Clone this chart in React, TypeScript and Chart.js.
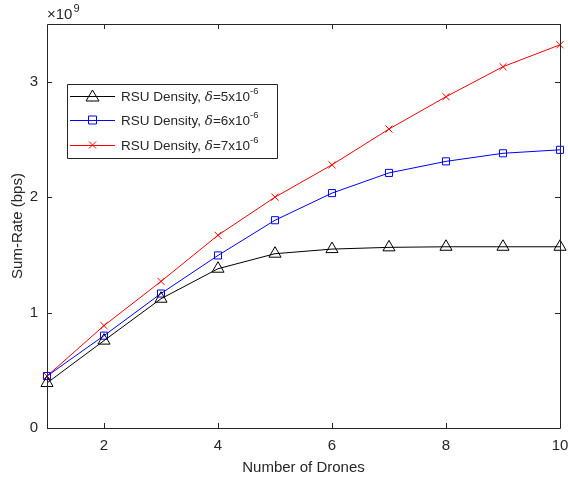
import React, { useEffect, useRef } from "react";
import { Chart, registerables } from "chart.js";

Chart.register(...registerables);

const drones = [1, 2, 3, 4, 5, 6, 7, 8, 9, 10];
const rate5 = [0.39, 0.757, 1.12, 1.38, 1.51, 1.55, 1.565, 1.57, 1.57, 1.57];
const rate6 = [0.45, 0.8, 1.165, 1.495, 1.8, 2.035, 2.21, 2.31, 2.38, 2.41];
const rate7 = [0.45, 0.887, 1.27, 1.67, 2.0, 2.28, 2.59, 2.87, 3.13, 3.32];
const xTicks = [2, 4, 6, 8, 10];
const yTicks = [0, 1, 2, 3];
const seriesLabels = ["5", "6", "7"];

const FONT = "'Liberation Sans', Arial, sans-serif";
const TXT = "#262626";

const framePlugin = {
  id: "frame",
  afterDraw(chart: any) {
    const { ctx, chartArea: a, scales } = chart;
    const xs = scales.x;
    const ys = scales.y;
    ctx.save();
    ctx.strokeStyle = "#262626";
    ctx.lineWidth = 1;
    ctx.beginPath();
    ctx.rect(Math.round(a.left) + 0.5, Math.round(a.top) + 0.5, Math.round(a.right - a.left), Math.round(a.bottom - a.top));
    ctx.stroke();
    const tl = 5;
    ctx.beginPath();
    xTicks.forEach((v) => {
      const px = Math.round(xs.getPixelForValue(v)) + 0.5;
      ctx.moveTo(px, a.bottom);
      ctx.lineTo(px, a.bottom - tl);
      ctx.moveTo(px, a.top);
      ctx.lineTo(px, a.top + tl);
    });
    yTicks.forEach((v) => {
      const py = Math.round(ys.getPixelForValue(v)) + 0.5;
      ctx.moveTo(a.left, py);
      ctx.lineTo(a.left + tl, py);
      ctx.moveTo(a.right, py);
      ctx.lineTo(a.right - tl, py);
    });
    ctx.stroke();

    // exponent label
    ctx.fillStyle = TXT;
    ctx.textBaseline = "alphabetic";
    ctx.textAlign = "left";
    ctx.font = `15px ${FONT}`;
    ctx.fillText("\u00d710", a.left, a.top - 5);
    const w = ctx.measureText("\u00d710").width;
    ctx.font = `11px ${FONT}`;
    ctx.fillText("9", a.left + w + 1, a.top - 12);

    // legend
    const lx = 67, ly = 84, lw = 210, lh = 74;
    ctx.fillStyle = "#ffffff";
    ctx.fillRect(lx, ly, lw, lh);
    ctx.strokeStyle = "#262626";
    ctx.beginPath();
    ctx.rect(lx + 0.5, ly + 0.5, lw, lh);
    ctx.stroke();
    const colors = ["#000000", "#0000ff", "#ff0000"];
    const rows = [96, 120, 145];
    rows.forEach((ry, i) => {
      const c = colors[i];
      ctx.strokeStyle = c;
      ctx.lineWidth = 1;
      ctx.beginPath();
      ctx.moveTo(70, ry + 0.5);
      ctx.lineTo(115, ry + 0.5);
      ctx.stroke();
      const mx = 92.5;
      ctx.beginPath();
      if (i === 0) {
        ctx.moveTo(mx, ry - 6);
        ctx.lineTo(mx + 6.5, ry + 5);
        ctx.lineTo(mx - 6.5, ry + 5);
        ctx.closePath();
      } else if (i === 1) {
        ctx.rect(mx - 4, ry - 4, 8, 8);
      } else {
        ctx.moveTo(mx - 3.5, ry - 3.5);
        ctx.lineTo(mx + 3.5, ry + 3.5);
        ctx.moveTo(mx + 3.5, ry - 3.5);
        ctx.lineTo(mx - 3.5, ry + 3.5);
      }
      ctx.stroke();
      ctx.fillStyle = TXT;
      let tx = 121;
      const base = ry + 5;
      ctx.font = `13.5px ${FONT}`;
      const p1 = "RSU Density, ";
      ctx.fillText(p1, tx, base);
      tx += ctx.measureText(p1).width;
      ctx.font = `italic 13.5px 'DejaVu Serif', serif`;
      ctx.fillText("\u03b4", tx, base);
      tx += ctx.measureText("\u03b4").width;
      ctx.font = `13.5px ${FONT}`;
      const p2 = "=" + seriesLabels[i] + "x10";
      ctx.fillText(p2, tx, base);
      tx += ctx.measureText(p2).width;
      ctx.font = `9.5px ${FONT}`;
      ctx.fillText("-6", tx, base - 7);
    });
    ctx.restore();
  },
};

export default function App() {
  const ref = useRef<HTMLCanvasElement>(null);
  useEffect(() => {
    document.body.style.margin = "0";
    const mk = (data: number[], color: string, style: any, r: number) => ({
      data: data.map((v, i) => ({ x: drones[i], y: v })),
      borderColor: color,
      backgroundColor: "rgba(0,0,0,0)",
      pointBorderColor: color,
      pointBackgroundColor: "rgba(0,0,0,0)",
      pointStyle: style,
      pointRadius: r,
      pointBorderWidth: 1,
      borderWidth: 1,
      tension: 0,
      clip: false,
    });
    const chart = new Chart(ref.current!, {
      type: "line",
      data: {
        datasets: [
          mk(rate5, "#000000", "triangle", 7),
          mk(rate6, "#0000ff", "rect", 5),
          mk(rate7, "#ff0000", "crossRot", 5),
        ],
      },
      options: {
        animation: false,
        responsive: false,
        layout: { padding: { top: 24, right: 7, left: 0, bottom: 0 } },
        plugins: { legend: { display: false }, tooltip: { enabled: false } },
        scales: {
          x: {
            type: "linear",
            min: 1,
            max: 10,
            grid: { display: false, drawTicks: false },
            border: { display: false },
            afterBuildTicks: (s: any) => {
              s.ticks = xTicks.map((v) => ({ value: v }));
            },
            afterFit: (s: any) => {
              s.height = 55;
              s.paddingLeft = 0;
              s.paddingRight = 0;
            },
            ticks: { color: TXT, font: { size: 15, family: FONT }, padding: 9, maxRotation: 0 },
            title: { display: true, text: "Number of Drones", color: TXT, font: { size: 15, family: FONT }, padding: { top: 2, bottom: 6 } },
          },
          y: {
            type: "linear",
            min: 0,
            max: 3.5,
            grid: { display: false, drawTicks: false },
            border: { display: false },
            afterBuildTicks: (s: any) => {
              s.ticks = yTicks.map((v) => ({ value: v }));
            },
            afterFit: (s: any) => {
              s.width = 47;
              s.paddingTop = 0;
              s.paddingBottom = 0;
            },
            ticks: { color: TXT, font: { size: 15, family: FONT }, padding: 9 },
            title: { display: true, text: "Sum-Rate (bps)", color: TXT, font: { size: 15, family: FONT }, padding: { top: 9, bottom: 4 } },
          },
        },
      },
      plugins: [framePlugin],
    } as any);
    return () => chart.destroy();
  }, []);
  return (
    <div style={{ width: 568, height: 483 }}>
      <canvas ref={ref} width={568} height={483} style={{ display: "block" }} />
    </div>
  );
}
